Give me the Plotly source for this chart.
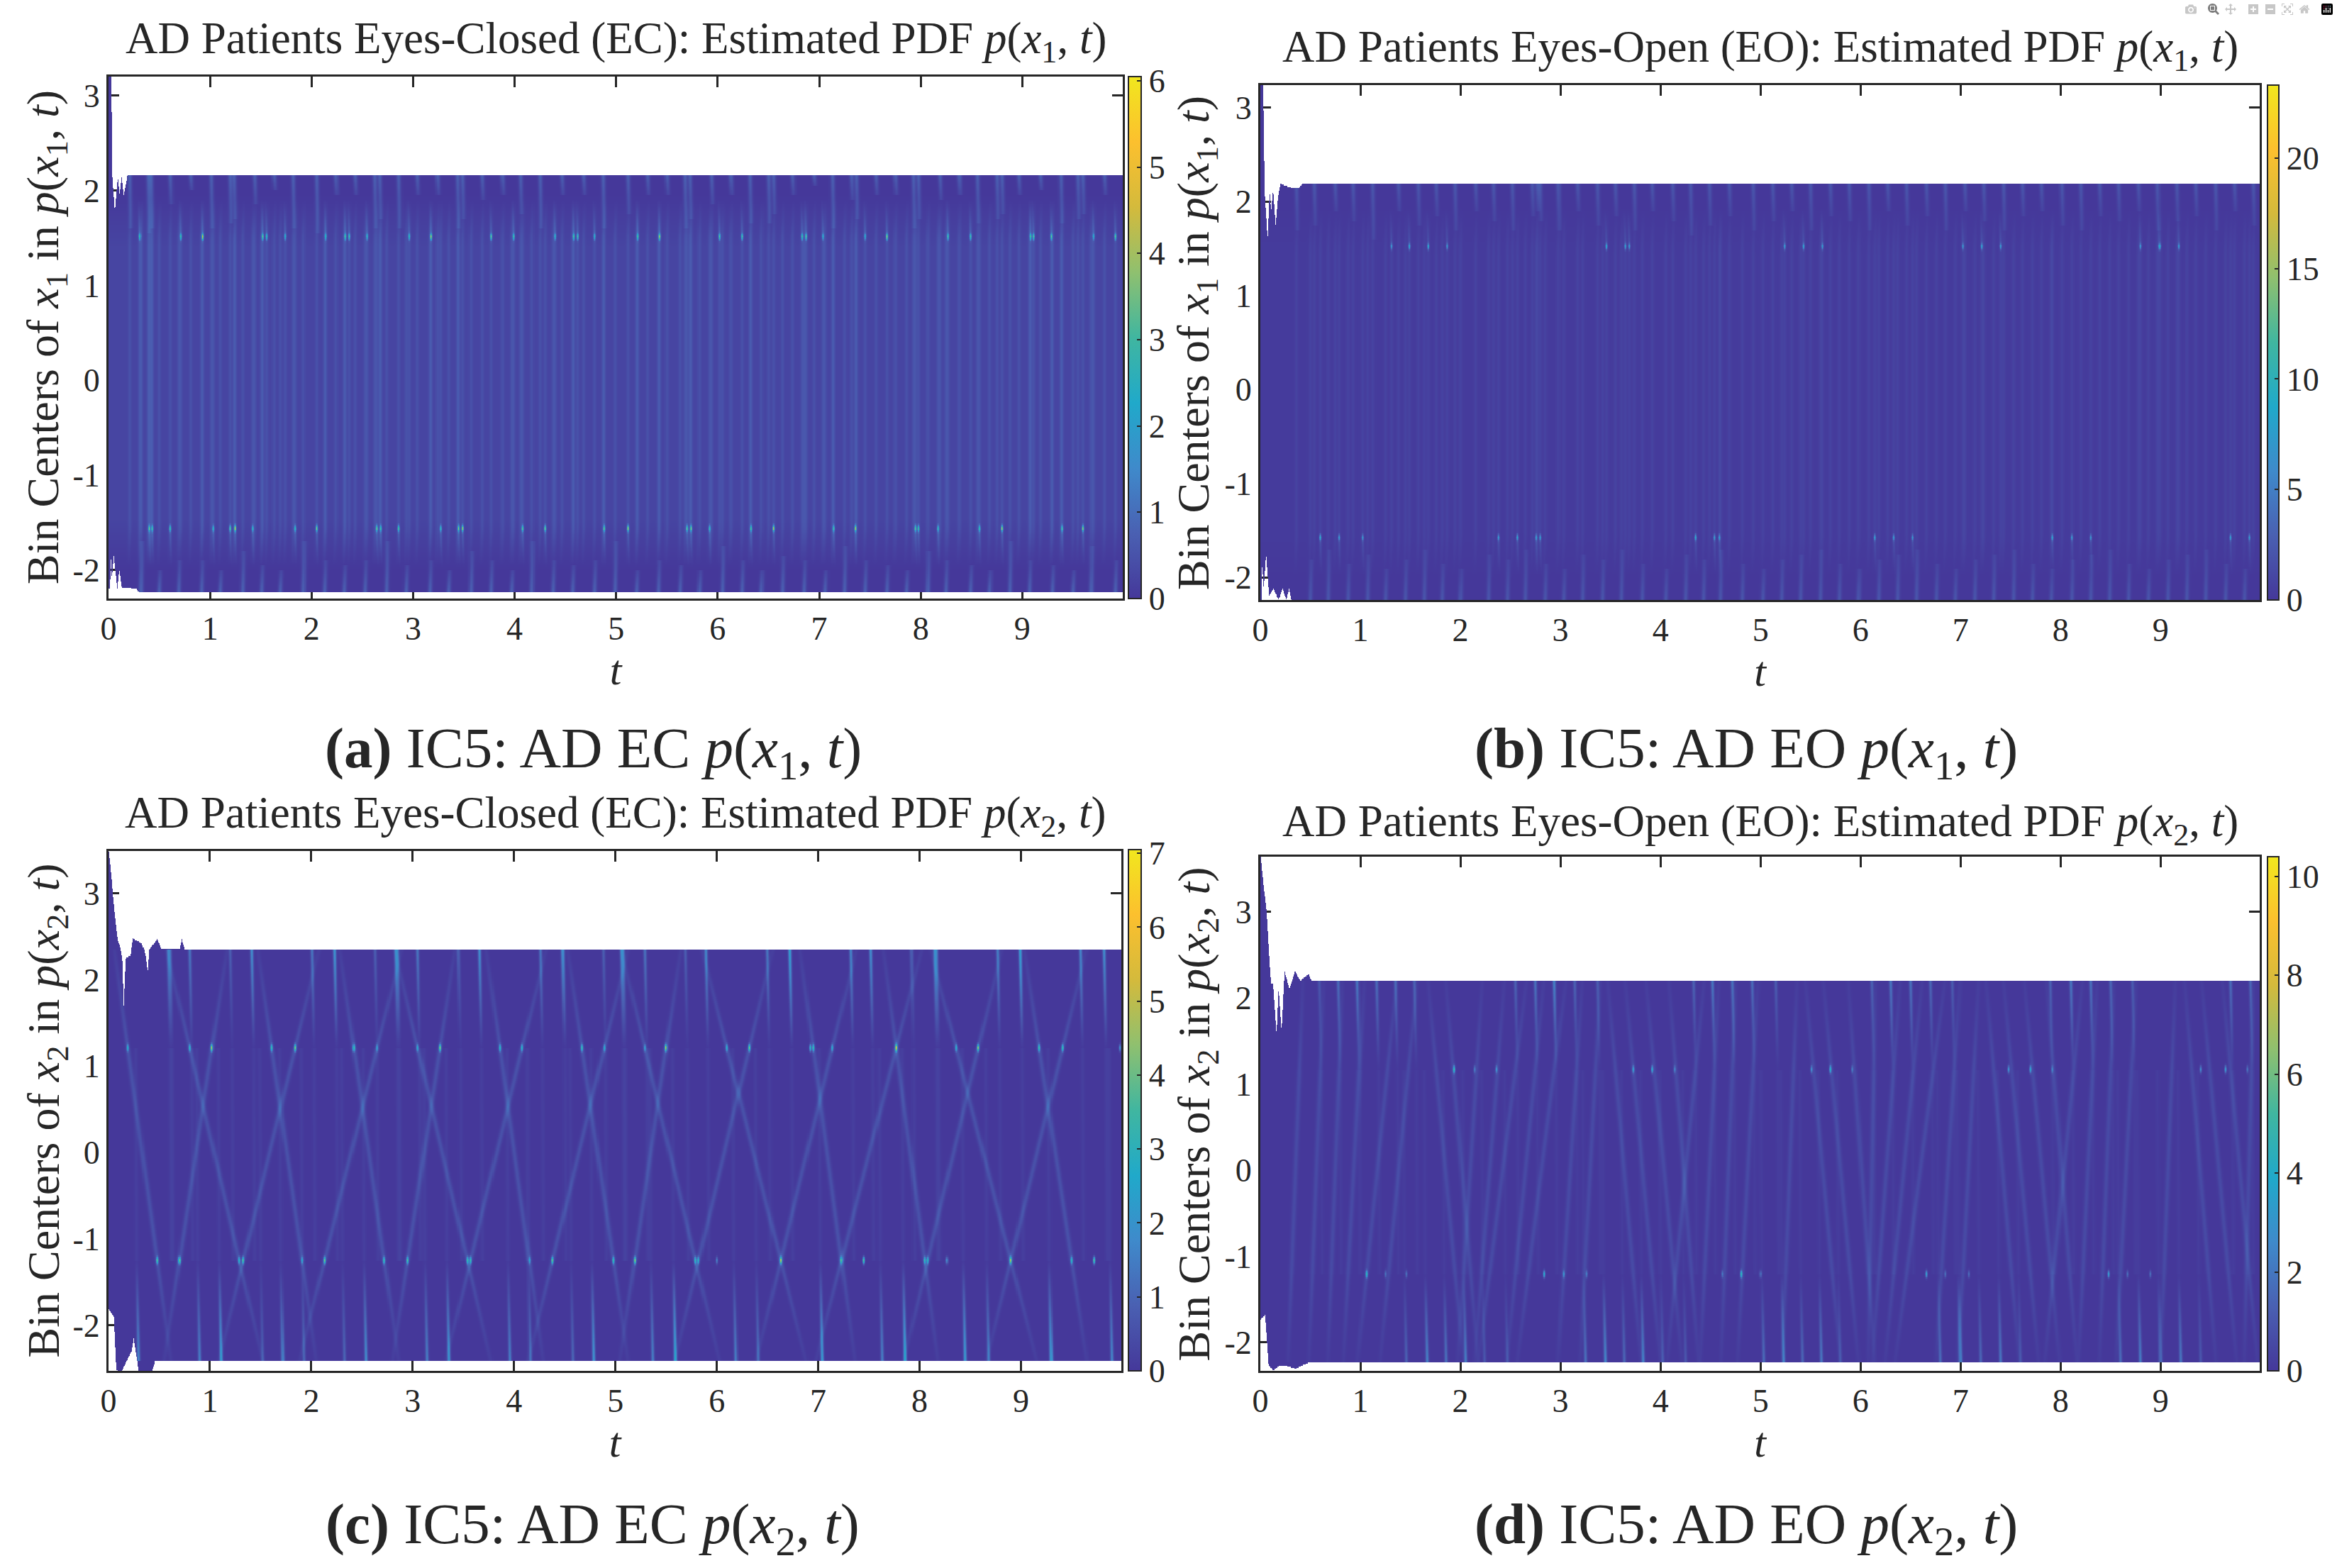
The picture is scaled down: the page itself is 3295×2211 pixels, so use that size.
import numpy as np
import plotly.graph_objects as go

# All lists below are estimates.  The reference's
# underlying density matrices cannot be recovered from the picture, so each panel
# is described by its envelope, its visible hot spots and its visible streaks.
PARULA = [[0.0, "#45389A"], [0.125, "#4A60B2"], [0.25, "#3F8ACB"], [0.375, "#20A9CA"],
          [0.5, "#40B6A0"], [0.625, "#8FC06F"], [0.75, "#D4BA3C"], [0.875, "#FCC02E"], [1.0, "#F1E71E"]]
FONT = "Liberation Serif"
INK = "#262626"

# ---------- panel (a) ----------
a_env_t = [0, 0.025, 0.035, 0.06, 0.09, 0.108, 0.128, 0.15, 0.19]
a_env_top = [3.2, 3.2, 2.15, 1.77, 2.14, 1.95, 2.14, 1.95, 2.17]
a_bot_t = [0, 0.012, 0.02, 0.03, 0.05, 0.085, 0.105, 0.13, 0.28, 0.30]
a_env_bot = [-2.2, -2.2, -1.85, -2.09, -1.85, -2.2, -2.0, -2.18, -2.2, -2.23]
a_hot_up_t = [.31, .71, .93, 1.52, 1.56, 1.74, 2.14, 2.33, 2.37, 2.55, 2.96, 3.18, 3.77, 3.99, 4.40, 4.58, 4.62, 4.79,
              5.21, 5.43, 6.02, 6.24, 6.83, 6.87, 7.04, 7.45, 7.67, 8.27, 8.49, 9.08, 9.11, 9.29, 9.70, 9.92]
a_hot_up_v = [2.4, 2.6, 4.0, 2.8, 2.4, 2.0, 2.0, 2.6, 2.6, 2.0, 2.4, 3.6, 3.0, 2.6, 2.0, 2.6, 2.6, 2.0,
              2.6, 3.6, 2.8, 2.6, 2.6, 2.8, 1.8, 1.8, 3.6, 2.6, 2.6, 2.6, 2.8, 2.8, 1.8, 3.0]
a_hot_lo_t = [.40, .43, .61, 1.03, 1.20, 1.25, 1.42, 1.84, 2.05, 2.64, 2.68, 2.86, 3.27, 3.45, 3.49, 4.08, 4.30, 4.88,
              5.12, 5.70, 5.74, 5.92, 6.33, 6.55, 7.14, 7.36, 7.95, 7.98, 8.17, 8.58, 8.80, 9.39, 9.60]
a_hot_lo_v = [2.8, 2.4, 2.6, 2.0, 2.8, 4.0, 2.0, 2.2, 3.2, 3.0, 2.4, 2.8, 2.2, 3.0, 3.6, 2.8, 3.0, 2.8,
              3.8, 2.8, 3.0, 2.2, 2.6, 3.8, 2.4, 3.6, 2.8, 2.6, 2.2, 2.4, 3.6, 2.4, 3.4]
a_up_t = [.21, .39, .42, .61, .81, 1.01, 1.20, 1.24, 1.44, 1.63, 1.82, 2.05, 2.24, 2.43, 2.62, 2.67, 2.86, 3.04, 3.24,
          3.44, 3.49, 3.68, 3.88, 4.06, 4.25, 4.47, 4.68, 4.87, 5.12, 5.31, 5.50, 5.68, 5.73, 5.94, 6.13, 6.32, 6.50,
          6.55, 6.74, 6.95, 7.13, 7.32, 7.37, 7.56, 7.75, 7.93, 7.98, 8.19, 8.38, 8.56, 8.75, 8.80, 8.97, 9.18, 9.38,
          9.55, 9.60, 9.81]
a_up_lo = [1.6, 1.55, 1.6, 1.85, 2.0, 1.6, 1.65, 1.7, 1.85, 2.0, 1.6, 1.55, 1.95, 1.95, 1.6, 1.7, 1.6, 1.95, 1.95,
           1.6, 1.7, 1.9, 1.95, 1.75, 1.6, 1.95, 1.95, 1.6, 1.75, 1.95, 1.95, 1.6, 1.7, 1.85, 1.95, 1.65, 1.65,
           1.75, 1.95, 2.05, 1.6, 1.9, 1.7, 1.95, 1.95, 1.6, 1.7, 1.9, 1.95, 1.65, 1.7, 1.75, 1.95, 2.0, 1.65,
           1.7, 1.75, 1.95]
a_lo_t = [.32, .50, .69, .92, 1.10, 1.32, 1.51, 1.69, 1.92, 2.13, 2.32, 2.53, 2.74, 2.93, 3.17, 3.35, 3.57, 3.77, 3.97,
          4.17, 4.38, 4.57, 4.79, 4.99, 5.20, 5.42, 5.63, 5.82, 6.05, 6.24, 6.43, 6.64, 6.85, 7.06, 7.25, 7.45, 7.67,
          7.86, 8.07, 8.25, 8.49, 8.68, 8.88, 9.07, 9.30, 9.50, 9.68, 9.92]
a_lo_hi = [-1.7, -2.0, -1.9, -1.9, -2.0, -1.8, -1.95, -2.0, -1.7, -1.9, -1.95, -1.9, -1.7, -1.95, -1.9, -2.0, -1.8,
           -1.9, -2.0, -1.7, -1.9, -1.95, -1.9, -1.7, -2.0, -1.9, -1.95, -2.0, -1.75, -1.9, -2.0, -1.85, -1.9, -2.0,
           -1.75, -1.9, -1.95, -2.0, -1.8, -1.9, -1.95, -2.0, -1.7, -1.9, -1.95, -2.0, -1.75, -1.9]

# ---------- panel (b) ----------
b_env_t = [0, 0.025, 0.04, 0.07, 0.09, 0.105, 0.125, 0.15, 0.175, 0.20, 0.22, 0.30, 0.39, 0.42]
b_env_top = [3.24, 3.24, 2.1, 1.6, 2.12, 1.9, 2.13, 1.75, 2.05, 2.2, 2.18, 2.15, 2.15, 2.19]
b_bot_t = [0, 0.008, 0.015, 0.03, 0.055, 0.085, 0.13, 0.18, 0.22, 0.26, 0.285, 0.31]
b_env_bot = [-2.24, -2.24, -1.85, -2.12, -1.75, -2.2, -2.12, -2.24, -2.12, -2.24, -2.12, -2.24]
b_hot_up_t = [1.31, 1.49, 1.68, 1.87, 3.46, 3.65, 3.69, 5.24, 5.43, 5.62, 7.02, 7.21, 7.40, 8.80, 8.99, 9.18]
b_hot_up_v = [5.5, 7.5, 7.5, 5.5, 7.5, 6.5, 6.0, 6.0, 7.0, 6.0, 5.5, 7.0, 6.0, 5.5, 7.0, 6.0]
b_hot_lo_t = [.60, .79, 1.02, 2.38, 2.57, 2.76, 2.80, 4.35, 4.54, 4.59, 6.14, 6.33, 6.52, 7.92, 8.11, 8.30, 9.70, 9.89]
b_hot_lo_v = [8.0, 6.0, 5.5, 6.0, 7.0, 6.0, 6.0, 8.0, 6.0, 6.0, 6.5, 6.0, 5.5, 6.5, 6.0, 5.5, 6.5, 6.0]
b_up_t = [.36, .54, .75, .93, 1.12, 1.38, 1.58, 1.76, 1.95, 2.15, 2.33, 2.52, 2.72, 2.77, 2.80, 2.98, 3.17, 3.37, 3.55,
          3.74, 3.92, 4.12, 4.30, 4.49, 4.69, 4.93, 5.12, 5.31, 5.50, 5.70, 5.89, 6.08, 6.27, 6.46, 6.66, 6.85, 7.04,
          7.23, 7.43, 7.62, 7.81, 8.01, 8.20, 8.39, 8.58, 8.78, 8.97, 9.16, 9.35, 9.55, 9.74, 9.93]
b_up_lo = [1.7, 1.75, 1.9, 1.8, 1.6, 1.9, 1.75, 1.85, 1.7, 1.9, 1.8, 1.7, 1.85, 1.9, 1.8, 1.7, 1.9, 1.75, 1.85,
           1.7, 1.9, 1.8, 1.65, 1.75, 1.85, 1.7, 1.8, 1.9, 1.7, 1.85, 1.8, 1.7, 1.9, 1.75, 1.85, 1.7, 1.9,
           1.8, 1.7, 1.85, 1.9, 1.75, 1.7, 1.85, 1.8, 1.9, 1.7, 1.8, 1.85, 1.7, 1.9, 1.75]
b_lo_t = [.50, .68, .88, 1.07, 1.25, 1.45, 1.64, 1.82, 2.00, 2.28, 2.47, 2.65, 2.85, 3.03, 3.22, 3.42, 3.61, 3.82, 4.05,
          4.25, 4.43, 4.60, 4.82, 5.02, 5.21, 5.40, 5.60, 5.79, 5.98, 6.18, 6.37, 6.56, 6.76, 6.95, 7.14, 7.33, 7.53,
          7.72, 7.91, 8.11, 8.30, 8.49, 8.68, 8.88, 9.07, 9.26, 9.45, 9.65, 9.84]
b_lo_hi = [-1.8, -1.7, -1.85, -1.75, -1.9, -1.8, -1.7, -1.85, -1.9, -1.75, -1.8, -1.7, -1.85, -1.9, -1.75, -1.8, -1.7,
           -1.85, -1.9, -1.75, -1.8, -1.7, -1.85, -1.9, -1.8, -1.75, -1.7, -1.85, -1.9, -1.8, -1.75, -1.7, -1.85,
           -1.9, -1.8, -1.75, -1.7, -1.85, -1.9, -1.8, -1.75, -1.7, -1.85, -1.9, -1.8, -1.75, -1.7, -1.85, -1.9]

# ---------- panel (c) ----------
c_env_t = [0, .02, .04, .06, .09, .11, .135, .15, .17, .22, .24, .33, .36, .385, .40, .48, .52, .70, .72, .75]
c_env_top = [3.49, 3.27, 3.0, 2.75, 2.45, 2.4, 2.25, 1.7, 2.25, 2.28, 2.48, 2.42, 2.3, 2.1, 2.35, 2.47, 2.36, 2.36, 2.47, 2.35]
c_bot_t = [0, .05, .075, .13, .18, .23, .25, .30, .43, .46]
c_env_bot = [-1.81, -1.9, -2.52, -2.53, -2.41, -2.3, -2.15, -2.53, -2.53, -2.41]
c_hot_up_t = [.19, .80, 1.02, 1.61, 1.84, 2.42, 2.65, 3.05, 3.27, 3.86, 4.08, 4.67, 4.89, 5.29, 5.50, 6.10, 6.32,
              6.92, 6.95, 7.14, 7.77, 8.36, 8.58, 9.18, 9.41, 9.98]
c_hot_up_v = [2.4, 2.6, 4.6, 3.0, 4.0, 3.0, 1.8, 2.2, 4.2, 2.8, 2.6, 3.0, 2.2, 1.8, 4.6, 2.4, 3.8, 3.0, 3.0, 2.2,
              4.8, 2.4, 4.2, 3.2, 3.0, 2.0]
c_hot_lo_t = [.48, .70, 1.29, 1.33, 1.91, 2.13, 2.72, 2.95, 3.54, 3.57, 4.15, 4.38, 4.98, 5.19, 5.79, 5.82, 6.0, 6.63,
              7.23, 7.45, 8.05, 8.08, 8.27, 8.90, 9.50, 9.72]
c_hot_lo_v = [3.4, 3.8, 2.6, 3.4, 2.0, 3.8, 3.0, 3.4, 3.0, 3.0, 2.0, 3.6, 3.0, 4.2, 2.8, 2.4, 1.6, 4.2,
              3.0, 4.0, 2.8, 2.6, 1.8, 4.0, 2.8, 4.0]
c_slant_top = [.19, .80, 1.02, 1.61, 1.84, 2.42, 2.65, 3.05, 3.27, 3.86, 4.08, 4.67, 4.89, 5.29, 5.50, 6.10, 6.32,
               6.95, 7.14, 7.77, 7.77, 8.36, 8.58, 9.18, 9.41]
c_slant_bot = [.48, 1.29, .70, 1.91, 1.33, 2.72, 2.13, 3.54, 2.95, 4.15, 3.57, 4.98, 4.38, 5.79, 5.19, 6.63, 5.82,
               7.23, 6.63, 8.05, 7.23, 8.90, 8.08, 9.50, 8.90]
c_up_t = [.59, .61, .80, 1.20, 1.41, 2.01, 2.23, 2.63, 2.83, 2.85, 3.05, 3.45, 3.66, 4.26, 4.48, 4.88, 5.06, 5.08,
          5.29, 5.69, 5.89, 6.50, 6.72, 7.32, 7.52, 7.92, 8.15, 8.17, 8.77, 8.99, 9.59, 9.82]
c_up_v = [1.6, 1.4, 1.6, 1.0, 2.2, 1.6, 2.4, 1.0, 1.8, 1.6, 1.6, 1.0, 2.2, 1.6, 2.2, 1.0, 1.8, 1.5, 1.5, 1.0, 2.0,
          1.6, 2.8, 2.0, 2.2, 1.0, 2.0, 1.6, 1.8, 2.8, 2.0, 2.2]
c_lo_t = [.30, .90, 1.11, 1.52, 1.72, 1.93, 2.33, 2.54, 3.14, 3.36, 3.96, 4.16, 4.58, 4.79, 5.37, 5.59, 6.19, 6.41,
          7.04, 7.63, 7.86, 8.45, 8.68, 9.30, 9.90]
c_lo_v = [2.0, 1.8, 2.6, 1.0, 1.8, 1.2, 1.2, 2.2, 1.8, 2.4, 1.8, 1.4, 1.2, 2.4, 1.8, 3.0, 1.8, 1.4, 2.6, 1.8, 3.0,
          2.6, 1.8, 2.6, 2.0]

# ---------- panel (d) ----------
d_env_t = [0, .03, .06, .09, .105, .125, .16, .18, .21, .24, .29, .345, .40, .485, .51]
d_env_top = [3.64, 3.3, 3.0, 2.4, 2.16, 2.16, 1.57, 2.12, 1.6, 2.31, 2.1, 2.31, 2.2, 2.28, 2.2]
d_bot_t = [0, .045, .08, .13, .19, .24, .355, .44, .50]
d_env_bot = [-1.73, -1.69, -2.27, -2.33, -2.27, -2.27, -2.31, -2.26, -2.23]
d_hot_up_t = [1.94, 2.14, 2.36, 3.73, 3.92, 4.14, 5.51, 5.70, 5.92, 7.48, 7.70, 7.92, 9.40, 9.65, 9.87]
d_hot_up_v = [4.8, 2.0, 2.6, 3.0, 3.8, 2.0, 2.6, 4.0, 2.0, 3.0, 3.6, 2.0, 2.8, 3.4, 2.0]
d_hot_lo_t = [1.06, 1.25, 1.46, 2.84, 3.03, 3.26, 4.62, 4.81, 5.0, 6.66, 6.85, 7.08, 8.48, 8.67, 8.90]
d_hot_lo_v = [4.4, 1.8, 1.8, 4.2, 2.6, 2.0, 1.8, 4.6, 1.8, 3.6, 1.8, 1.8, 3.6, 1.8, 1.8]
d_slant_top = [.39, .60, .79, .99, 1.27, 1.48, 1.76, 1.93, 2.16, 2.37, 2.55, 2.75, 2.94, 3.16, 3.35, 3.55, 3.73, 3.94,
               4.15, 4.35, 4.54, 4.72, 4.93, 5.33, 5.53, 5.71, 5.94, 6.13, 6.33, 6.53, 6.73, 6.94, 7.13, 7.33, 7.51,
               7.72, 7.93, 8.13, 8.32, 8.50, 8.71, 9.11, 9.31, 9.49, 9.70, 9.91]
d_slant_bot = [.31, .52, .71, .88, 1.06, 1.28, 1.95, 2.10, 2.03, 2.21, 2.29, 2.55, 2.68, 3.03, 3.24, 3.73, 3.92, 4.13,
               4.31, 4.15, 4.44, 4.64, 4.82, 5.25, 5.72, 5.90, 6.08, 6.09, 6.18, 6.33, 6.46, 6.81, 7.02, 7.51, 7.70,
               7.91, 8.09, 7.93, 8.22, 8.42, 8.60, 9.03, 9.48, 9.68, 9.89, 9.86]
d_up_t = [.59, .78, .97, 1.16, 1.35, 1.54, 2.55, 2.75, 2.94, 3.14, 3.37, 4.33, 4.52, 4.72, 4.92, 5.15, 6.11, 6.30,
          6.50, 6.70, 6.92, 7.90, 8.10, 8.30, 8.50, 8.72, 9.70, 9.90]
d_up_v = [1.2, 2.0, 2.4, 2.0, 1.8, 1.6, 1.6, 2.2, 2.8, 1.6, 1.4, 1.6, 2.4, 2.2, 2.0, 1.4, 1.6, 2.4, 2.2, 1.8, 1.4,
          1.6, 2.4, 2.2, 1.8, 1.4, 2.0, 1.8]
d_lo_t = [1.46, 1.67, 1.86, 2.05, 2.24, 2.47, 3.25, 3.45, 3.64, 3.83, 4.02, 4.25, 5.03, 5.23, 5.42, 5.61, 5.80, 6.80,
          7.00, 7.20, 7.40, 7.60, 8.60, 8.80, 9.00, 9.20, 9.40]
d_lo_v = [1.6, 2.8, 2.2, 2.6, 1.2, 1.2, 2.2, 3.0, 1.8, 2.8, 1.4, 1.2, 2.0, 2.8, 1.8, 2.4, 1.2, 2.0, 2.8, 1.8, 2.4,
          1.2, 2.0, 2.6, 1.8, 2.4, 1.2]

TICKS_T = list(range(10))
TICKS_Y = [-2, -1, 0, 1, 2, 3]
TICKTEXT_Y = ["-2", "-1", "0", "1", "2", "3"]
COLS = 1400
T = np.linspace(0, 9.99, COLS)
DY = 0.0125


def add_streak(z, Y, t0, y0, t1, y1, v0, v1, w):
    """Paint one streak between two read end points onto the density grid."""
    lo, hi = min(y0, y1), max(y0, y1)
    rows = np.where((Y >= lo) & (Y <= hi))[0]
    for r in rows:
        f = (Y[r] - y0) / (y1 - y0) if y1 != y0 else 0.0
        c = t0 + f * (t1 - t0)
        v = v0 + f * (v1 - v0)
        a = max(0, int((c - 4 * w) / T[1]))
        b = min(COLS, int((c + 4 * w) / T[1]) + 2)
        if b > a:
            z[r, a:b] += v * np.exp(-0.5 * ((T[a:b] - c) / w) ** 2)


def add_hot(z, Y, t0, y0, v, wt=0.006, wy=0.022):
    r = np.where(np.abs(Y - y0) < 0.1)[0]
    a = max(0, int((t0 - 0.03) / T[1]))
    b = min(COLS, int((t0 + 0.03) / T[1]) + 2)
    for i in r:
        z[i, a:b] += v * np.exp(-0.5 * ((T[a:b] - t0) / wt) ** 2 - 0.5 * ((Y[i] - y0) / wy) ** 2)


def envelope(z, Y, et, etop, bt, ebot, rim_top, rim_bot):
    top = np.interp(T, et + [et[-1] + 0.01, 10], etop + [rim_top, rim_top])
    bot = np.interp(T, bt + [bt[-1] + 0.01, 10], ebot + [rim_bot, rim_bot])
    for c in range(COLS):
        z[(Y > top[c]) | (Y < bot[c]), c] = np.nan
    return z


def panel_x1(et, etop, bt, ebot, rim_top, rim_bot, hu, huv, hl, hlv, ut, ulo, lt, lhi, yu, yl,
             base_mid, stripe, tip):
    Y = np.arange(rim_bot - 1.0, max(etop) + DY, DY)
    prof = np.interp(Y, [yl - 0.45, yl + 0.1, yu - 0.1, yu + 0.45], [0.0, base_mid, base_mid, 0.0])
    z = prof[:, None] * np.ones((1, COLS))
    for t in sorted(set(ut) | set(lt) | set(hu) | set(hl)):
        add_streak(z, Y, t, yl, t, yu, stripe, stripe, 0.012)
        add_streak(z, Y, t, yu, t + 0.01, yu + 0.4, stripe, 0.0, 0.012)
        add_streak(z, Y, t, yl, t - 0.01, yl - 0.4, stripe, 0.0, 0.012)
    for t, lo in zip(ut, ulo):
        add_streak(z, Y, t, rim_top, t + 0.01, lo, tip, tip * 0.35, 0.015)
    for t, hi in zip(lt, lhi):
        add_streak(z, Y, t, rim_bot, t + 0.01, hi, tip, tip * 0.35, 0.015)
    for t, v in zip(hu, huv):
        add_streak(z, Y, t, yu, t - 0.012, yu + 0.4, tip * 0.6, 0.0, 0.008)
        add_hot(z, Y, t, yu, v)
    for t, v in zip(hl, hlv):
        add_streak(z, Y, t, yl, t + 0.012, yl - 0.4, tip * 0.6, 0.0, 0.008)
        add_hot(z, Y, t, yl, v)
    return envelope(z, Y, et, etop, bt, ebot, rim_top, rim_bot), Y


def panel_x2(et, etop, bt, ebot, rim_top, rim_bot, hu, huv, hl, hlv, st, sb, ut, uv, lt, lv, yu, yl, slant):
    Y = np.arange(rim_bot - 1.0, max(etop) + DY, DY)
    z = np.zeros((Y.size, COLS))
    for a, b in zip(st, sb):
        s = (a - b) / (yu - yl)
        add_streak(z, Y, a, yu, b, yl, slant, slant, 0.017)
        add_streak(z, Y, a, yu, a + s * (rim_top - yu), rim_top, slant, slant * 0.25, 0.015)
        add_streak(z, Y, b, yl, b + s * (rim_bot - yl), rim_bot, slant, slant * 0.25, 0.015)
    for t, v in zip(hu, huv):
        add_hot(z, Y, t, yu, v, 0.007, 0.028)
    for t, v in zip(hl, hlv):
        add_hot(z, Y, t, yl, v, 0.007, 0.028)
    for t, v in zip(ut, uv):
        add_streak(z, Y, t, rim_top, t + 0.02, yu, v * 0.85, 0.05, 0.011)
        add_streak(z, Y, t + 0.02, yu, t + 0.03, yl, 0.15, 0.15, 0.014)
    for t, v in zip(lt, lv):
        add_streak(z, Y, t, rim_bot, t - 0.02, yl, v * 0.85, 0.05, 0.011)
        add_streak(z, Y, t - 0.02, yl, t - 0.03, yu, 0.15, 0.15, 0.014)
    return envelope(z, Y, et, etop, bt, ebot, rim_top, rim_bot), Y


za, ya = panel_x1(a_env_t, a_env_top, a_bot_t, a_env_bot, 2.17, -2.23, a_hot_up_t, a_hot_up_v, a_hot_lo_t, a_hot_lo_v,
                  a_up_t, a_up_lo, a_lo_t, a_lo_hi, 1.51, -1.56, 0.24, 0.24, 0.75)
zb, yb = panel_x1(b_env_t, b_env_top, b_bot_t, b_env_bot, 2.19, -2.25, b_hot_up_t, b_hot_up_v, b_hot_lo_t, b_hot_lo_v,
                  b_up_t, b_up_lo, b_lo_t, b_lo_hi, 1.52, -1.57, 0.25, 0.55, 2.2)
zc, yc = panel_x2(c_env_t, c_env_top, c_bot_t, c_env_bot, 2.35, -2.41, c_hot_up_t, c_hot_up_v, c_hot_lo_t, c_hot_lo_v,
                  c_slant_top, c_slant_bot, c_up_t, c_up_v, c_lo_t, c_lo_v, 1.21, -1.25, 0.55)
zd, yd = panel_x2(d_env_t, d_env_top, d_bot_t, d_env_bot, 2.20, -2.23, d_hot_up_t, d_hot_up_v, d_hot_lo_t, d_hot_lo_v,
                  d_slant_top, d_slant_bot, d_up_t, d_up_v, d_lo_t, d_lo_v, 1.17, -1.21, 0.6)

W, H = 3295, 2211
panels = [
    dict(z=za, y=ya, rng=[-2.3, 3.2], box=(153, 1583, 108, 844), cb=(1591, 1609, 108, 844), vmax=6.05,
         cbt=[0, 1, 2, 3, 4, 5, 6], lx=65,
         title="AD Patients Eyes-Closed (EC): Estimated PDF <i>p</i>(<i>x</i><sub>1</sub>, <i>t</i>)",
         yl="Bin Centers of <i>x</i><sub>1</sub> in <i>p</i>(<i>x</i><sub>1</sub>, <i>t</i>)", ty=59,
         cap="<b>(a)</b> IC5: AD EC <i>p</i>(<i>x</i><sub>1</sub>, <i>t</i>)", cx=836, cy=1061),
    dict(z=zb, y=yb, rng=[-2.24, 3.24], box=(1777, 3186, 120, 846), cb=(3197, 3213, 120, 846), vmax=23.3,
         cbt=[0, 5, 10, 15, 20], lx=1687,
         title="AD Patients Eyes-Open (EO): Estimated PDF <i>p</i>(<i>x</i><sub>1</sub>, <i>t</i>)",
         yl="Bin Centers of <i>x</i><sub>1</sub> in <i>p</i>(<i>x</i><sub>1</sub>, <i>t</i>)", ty=71,
         cap="<b>(b)</b> IC5: AD EO <i>p</i>(<i>x</i><sub>1</sub>, <i>t</i>)", cx=2462, cy=1061),
    dict(z=zc, y=yc, rng=[-2.53, 3.49], box=(153, 1581, 1200, 1933), cb=(1591, 1609, 1198, 1933), vmax=7.05,
         cbt=[0, 1, 2, 3, 4, 5, 6, 7], lx=65,
         title="AD Patients Eyes-Closed (EC): Estimated PDF <i>p</i>(<i>x</i><sub>2</sub>, <i>t</i>)",
         yl="Bin Centers of <i>x</i><sub>2</sub> in <i>p</i>(<i>x</i><sub>2</sub>, <i>t</i>)", ty=1150,
         cap="<b>(c)</b> IC5: AD EC <i>p</i>(<i>x</i><sub>2</sub>, <i>t</i>)", cx=835, cy=2154),
    dict(z=zd, y=yd, rng=[-2.33, 3.64], box=(1777, 3186, 1208, 1933), cb=(3197, 3213, 1208, 1933), vmax=10.4,
         cbt=[0, 2, 4, 6, 8, 10], lx=1687,
         title="AD Patients Eyes-Open (EO): Estimated PDF <i>p</i>(<i>x</i><sub>2</sub>, <i>t</i>)",
         yl="Bin Centers of <i>x</i><sub>2</sub> in <i>p</i>(<i>x</i><sub>2</sub>, <i>t</i>)", ty=1162,
         cap="<b>(d)</b> IC5: AD EO <i>p</i>(<i>x</i><sub>2</sub>, <i>t</i>)", cx=2462, cy=2154),
]

fig = go.Figure()
layout = dict(width=W, height=H, margin=dict(l=0, r=0, t=0, b=0, autoexpand=False), paper_bgcolor="white",
              plot_bgcolor="white", font=dict(family=FONT, color=INK), showlegend=False)
annots = []
for i, p in enumerate(panels, start=1):
    x0, x1, y0, y1 = p["box"]
    cx0, cx1, cy0, cy1 = p["cb"]
    xn, yn = f"x{i}", f"y{i}"
    fig.add_trace(go.Heatmap(
        x=T, y=p["y"], z=p["z"].astype(np.float32), xaxis=xn, yaxis=yn, zmin=0, zmax=p["vmax"],
        colorscale=PARULA, hoverongaps=False, zsmooth=False,
        colorbar=dict(x=cx0 / W, xanchor="left", y=1 - cy1 / H, yanchor="bottom", len=(cy1 - cy0) / H,
                      lenmode="fraction", thickness=cx1 - cx0, thicknessmode="pixels", xpad=0, ypad=0,
                      tickvals=p["cbt"], ticks="inside", ticklen=7, tickwidth=2, tickcolor=INK,
                      outlinecolor=INK, outlinewidth=2, borderwidth=0,
                      tickfont=dict(family=FONT, size=46, color=INK))))
    axis = dict(showline=True, linecolor=INK, linewidth=3, mirror="ticks", ticks="inside", ticklen=15, tickwidth=3,
                tickcolor=INK, showgrid=False, zeroline=False, layer="below traces",
                tickfont=dict(family=FONT, size=46, color=INK))
    layout[f"xaxis{i}"] = dict(axis, domain=[x0 / W, x1 / W], range=[0, 9.99], tickvals=TICKS_T, anchor=yn,
                               title=dict(text="<i>t</i>", font=dict(family=FONT, size=60, color=INK), standoff=6))
    layout[f"yaxis{i}"] = dict(axis, domain=[1 - y1 / H, 1 - y0 / H], range=p["rng"], tickvals=TICKS_Y,
                               ticktext=TICKTEXT_Y, anchor=xn)
    annots.append(dict(text=p["title"], xref="paper", yref="paper", x=(x0 + x1) / 2 / W, y=1 - p["ty"] / H,
                       xanchor="center", yanchor="middle", showarrow=False,
                       font=dict(family=FONT, size=63, color=INK)))
    annots.append(dict(text=p["yl"], xref="paper", yref="paper", x=p["lx"] / W, y=1 - (y0 + y1) / 2 / H,
                       xanchor="center", yanchor="middle", showarrow=False, textangle=-90,
                       font=dict(family=FONT, size=64, color=INK)))
    annots.append(dict(text=p["cap"], xref="paper", yref="paper", x=p["cx"] / W, y=1 - p["cy"] / H,
                       xanchor="center", yanchor="middle", showarrow=False,
                       font=dict(family=FONT, size=81, color=INK)))
layout["annotations"] = annots
fig.update_layout(**layout)
fig.write_html("out.html", post_script="document.body.style.margin='0';")
